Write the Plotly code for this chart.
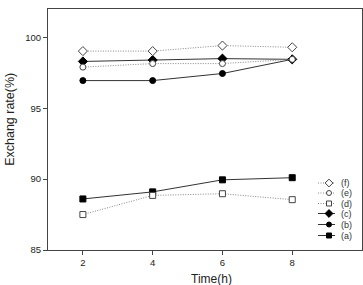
import plotly.graph_objects as go

time_h = [2, 4, 6, 8]
series_a = [88.6, 89.1, 89.95, 90.1]
series_b = [96.95, 96.95, 97.45, 98.45]
series_c = [98.3, 98.4, 98.5, 98.45]
series_d = [87.5, 88.85, 88.97, 88.55]
series_e = [97.9, 98.15, 98.15, 98.45]
series_f = [99.03, 99.03, 99.42, 99.3]
labels = ["(f)", "(e)", "(d)", "(c)", "(b)", "(a)"]

LINE_SOLID = "#333333"
LINE_DOT = "#888888"
DOT_DASH = "1px,1.5px"
FONT = "Liberation Sans, Arial, sans-serif"

styles = {
    "(a)": dict(y=series_a, symbol="square", dash="solid"),
    "(b)": dict(y=series_b, symbol="circle", dash="solid"),
    "(c)": dict(y=series_c, symbol="diamond", dash="solid"),
    "(d)": dict(y=series_d, symbol="square-open", dash=DOT_DASH),
    "(e)": dict(y=series_e, symbol="circle-open", dash=DOT_DASH),
    "(f)": dict(y=series_f, symbol="diamond-open", dash=DOT_DASH),
}

fig = go.Figure()
for name in ["(a)", "(b)", "(c)", "(d)", "(e)", "(f)"]:
    s = styles[name]
    solid = s["dash"] == "solid"
    fig.add_trace(go.Scatter(
        x=time_h, y=s["y"], mode="lines+markers", name=name,
        line=dict(color=LINE_SOLID if solid else LINE_DOT, width=1, dash=s["dash"]),
        marker=dict(symbol=s["symbol"].replace("-open", ""),
                    size=7 if "diamond" in s["symbol"] else 6,
                    color="black" if solid else "white",
                    line=dict(color="black" if solid else "#444444", width=1)),
        showlegend=False,
    ))

# custom compact legend on an overlay axis (pixel-like coordinates)
leg_x0, leg_x1, leg_xm, leg_xt = 318, 335, 329, 339
leg_y = [183, 193, 203.5, 213.5, 224.5, 235.5]
for lab, yy in zip(labels, leg_y):
    s = styles[lab]
    solid = s["dash"] == "solid"
    fig.add_trace(go.Scatter(
        x=[leg_x0, leg_x1], y=[yy, yy], mode="lines", xaxis="x2", yaxis="y2",
        line=dict(color=LINE_SOLID if solid else LINE_DOT, width=1, dash=s["dash"]),
        showlegend=False, hoverinfo="skip"))
    fig.add_trace(go.Scatter(
        x=[leg_xm], y=[yy], mode="markers", xaxis="x2", yaxis="y2",
        marker=dict(symbol=s["symbol"].replace("-open", ""),
                    size=6 if "diamond" in s["symbol"] else 5,
                    color="black" if solid else "white",
                    line=dict(color="black" if solid else "#444444", width=1)),
        showlegend=False, hoverinfo="skip"))
    fig.add_annotation(x=leg_xt, y=yy, xref="x2", yref="y2", text=lab,
                       showarrow=False, xanchor="left", yanchor="middle",
                       font=dict(size=9, color="#333333", family=FONT))

axis_common = dict(showgrid=False, zeroline=False, showline=True, linecolor="#444444",
                   linewidth=1, mirror=True, ticks="outside", ticklen=4, tickwidth=1,
                   tickcolor="#444444")

fig.update_layout(
    width=363, height=285,
    margin=dict(l=48, r=1, t=9, b=35),
    plot_bgcolor="white", paper_bgcolor="white",
    font=dict(family=FONT, color="#333333", size=9),
    xaxis=dict(range=[1, 10], tickvals=time_h,
               tickfont=dict(size=9.5, color="#222222", family=FONT), **axis_common),
    yaxis=dict(range=[85, 102], tickvals=[85, 90, 95, 100],
               tickfont=dict(size=9.5, color="#222222", family=FONT), **axis_common),
    xaxis2=dict(overlaying="x", range=[48, 362], visible=False, fixedrange=True),
    yaxis2=dict(overlaying="y", range=[250, 9], visible=False, fixedrange=True),
    showlegend=False,
)

fig.add_annotation(text="Time(h)", xref="paper", yref="paper", x=0.52, y=0, yshift=-29,
                   showarrow=False, xanchor="center", yanchor="middle",
                   font=dict(size=12, color="#222222", family=FONT))
fig.add_annotation(text="Exchang rate(%)", xref="paper", yref="paper", x=0, xshift=-38,
                   y=0.54, showarrow=False, textangle=-90, xanchor="center", yanchor="middle",
                   font=dict(size=12.5, color="#222222", family=FONT))

fig.write_html("out.html")
